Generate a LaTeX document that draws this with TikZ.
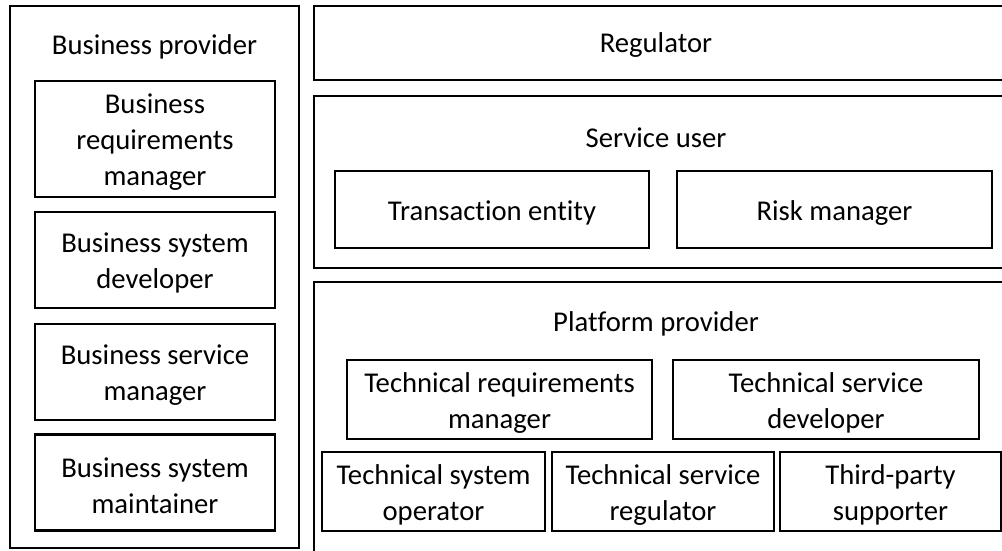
\documentclass[tikz,border=0pt]{standalone}
\usepackage{fontspec}
\setmainfont{Carlito}[Ligatures=CommonOff]
\usetikzlibrary{positioning}

\tikzset{
  roletext/.style={align=center, inner sep=0pt, yshift=-2.5pt,
    font=\fontsize{21.5}{27}\selectfont},
  % a framed role; the name is set a little below the middle
  role/.style={draw, line width=1.8pt, inner sep=0pt,
    label={[roletext]center:{#1}}},
  group/.style={draw, line width=1.8pt},
  grouptitle/.style={font=\fontsize{21.5}{27}\selectfont}
}

\begin{document}
\begin{tikzpicture}[x=0.75pt, y=-0.75pt]

  \clip (0,0) rectangle (1002,550);
  \fill[white] (0,0) rectangle (1002,550);

  % business provider column
  \draw[group] (10,6) rectangle (299,548);
  \node[grouptitle] (bizprov) at (154.5,47) {Business provider};
  \node[role={Business\\requirements\\manager}, minimum width=180pt, minimum height=87pt] (bizreq) at (155,139) {};
  \node[role={Business system\\developer}, minimum width=180pt, minimum height=72pt] (bizdev) at (155,260) {};
  \node[role={Business service\\manager}, minimum width=180pt, minimum height=72pt] (bizsrv) at (155,372) {};
  \node[role={Business system\\maintainer}, minimum width=180pt, minimum height=72pt] (bizmnt) at (155,482.5) {};

  % regulator
  \draw[group] (314,6) rectangle (1010,80);
  \node[grouptitle] (regulator) at (656,45) {Regulator};

  % service user
  \draw[group] (314,96) rectangle (1010,268);
  \node[grouptitle] (srvuser) at (656,138) {Service user};
  \node[role={Transaction entity}, minimum width=235.5pt, minimum height=57.75pt] (trans) at (492,209.5) {};
  \node[role={Risk manager}, minimum width=236pt, minimum height=57.75pt] (risk) at (834.5,209.5) {};

  % platform provider
  \draw[group] (314,282) rectangle (1010,570);
  \node[grouptitle] (platprov) at (656,324) {Platform provider};
  \node[role={Technical requirements\\manager}, minimum width=228.75pt, minimum height=59.25pt] (techreq) at (499.5,399.5) {};
  \node[role={Technical service\\developer}, minimum width=229.5pt, minimum height=59.25pt] (techdev) at (826,399.5) {};
  \node[role={Technical system\\operator}, minimum width=167.25pt, minimum height=59.25pt] (techop) at (433.5,491.5) {};
  \node[role={Technical service\\regulator}, minimum width=166.5pt, minimum height=59.25pt] (techreg) at (663,491.5) {};
  \node[role={Third-party\\supporter}, minimum width=165.75pt, minimum height=59.25pt] (thirdp) at (890.5,491.5) {};

\end{tikzpicture}
\end{document}
